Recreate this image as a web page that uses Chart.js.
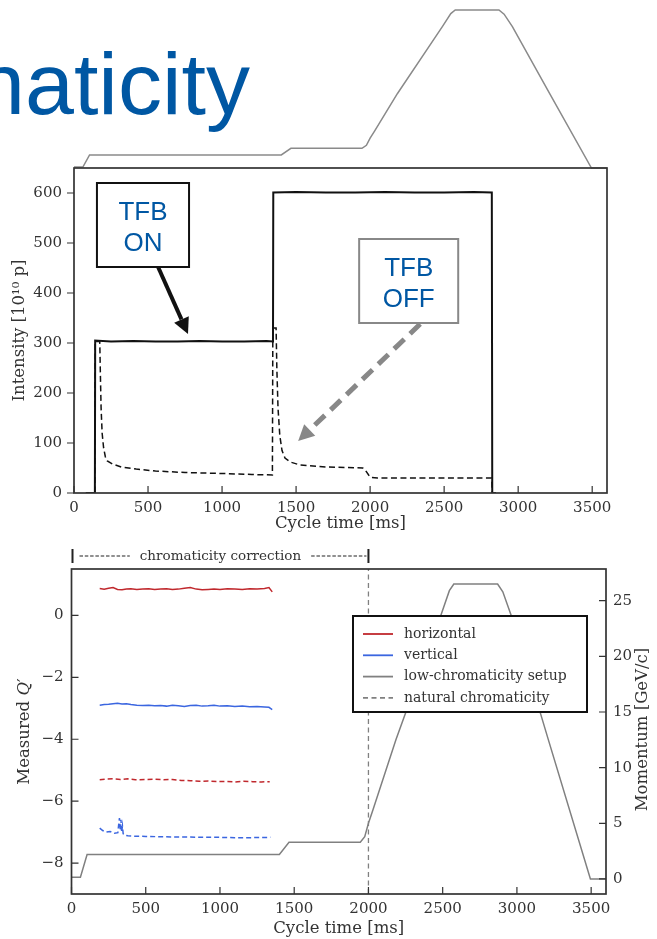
<!DOCTYPE html>
<html>
<head>
<meta charset="utf-8">
<script src="https://cdn.jsdelivr.net/npm/chart.js@4.4.1/dist/chart.umd.min.js"></script>
<style>
  html, body { margin: 0; padding: 0; background: #fff; }
  body { width: 657px; height: 939px; position: relative; overflow: hidden; }
  #slide-title { position: absolute; left: -24px; top: 40px; font: 88px/88px 'Liberation Sans', Arial, sans-serif; color: #0057a3; white-space: nowrap; }
  .panel { position: absolute; left: 0; width: 657px; }
  #top-panel { top: 0; height: 545px; }
  #bottom-panel { top: 540px; height: 399px; }
</style>
</head>
<body>
<div id="slide-title">naticity</div>
<div class="panel" id="top-panel"><canvas id="intensityChart"></canvas></div>
<div class="panel" id="bottom-panel"><canvas id="chromaChart"></canvas></div>
<script>
// shared axis ticks
const timeTicks = [0, 500, 1000, 1500, 2000, 2500, 3000, 3500];
const intensityTicks = [0, 100, 200, 300, 400, 500, 600];
const qTicks = [0, -2, -4, -6, -8];
const momTicks = [0, 5, 10, 15, 20, 25];

// top panel: intensity [1e10 p], TFB on (solid) / off (dashed)
const onTime = [80, 141, 143, 250, 400, 550, 700, 850, 1000, 1150, 1300, 1344, 1346, 1500, 1700, 1900, 2100, 2300, 2500, 2700, 2822, 2825, 2850];
const onIntensity = [0, 0, 305, 303, 304, 303, 303, 304, 303, 303, 304, 303, 601, 602, 601, 601, 602, 601, 601, 602, 601, 0, 0];
const offTime = [80, 141, 143, 174, 178, 183, 190, 200, 212, 225, 260, 320, 420, 550, 750, 1000, 1200, 1340, 1343, 1365, 1370, 1378, 1390, 1405, 1425, 1460, 1527, 1700, 1950, 1965, 1990, 2005, 2050, 2400, 2822, 2825, 2850];
const offIntensity = [0, 0, 303, 303, 240, 170, 120, 90, 72, 64, 58, 52, 48, 44, 41, 39, 37, 36, 330, 330, 250, 170, 115, 85, 70, 62, 56, 52, 50, 47, 36, 31, 30, 30, 30, 0, 0];

// momentum cycle [GeV/c] (also the slide's decorative ramp above the top panel)
const momTime = [0, 60, 105, 1400, 1465, 1945, 1975, 2000, 2030, 2185, 2488, 2545, 2575, 2870, 2905, 2961, 3212, 3495, 3600];
const momentum = [0.15, 0.15, 2.2, 2.2, 3.3, 3.3, 3.8, 5.0, 6.2, 12.5, 23.7, 25.9, 26.5, 26.5, 25.8, 23.7, 12.5, 0, 0];

// bottom panel: measured Q'
const lowTime = [190, 220, 250, 280, 310, 340, 370, 400, 440, 480, 520, 560, 600, 640, 680, 720, 760, 800, 840, 880, 920, 960, 1000, 1050, 1100, 1150, 1200, 1250, 1300, 1330, 1352];
const hLow = [0.87, 0.85, 0.88, 0.90, 0.84, 0.83, 0.85, 0.86, 0.84, 0.85, 0.86, 0.84, 0.85, 0.86, 0.84, 0.85, 0.88, 0.90, 0.85, 0.83, 0.84, 0.85, 0.84, 0.86, 0.85, 0.84, 0.86, 0.85, 0.87, 0.90, 0.76];
const vLow = [-2.90, -2.88, -2.87, -2.85, -2.84, -2.86, -2.85, -2.88, -2.90, -2.91, -2.90, -2.92, -2.91, -2.93, -2.90, -2.92, -2.94, -2.91, -2.90, -2.93, -2.92, -2.90, -2.93, -2.92, -2.94, -2.93, -2.95, -2.94, -2.96, -2.97, -3.04];
const hNatTime = [190, 230, 280, 330, 380, 430, 500, 560, 620, 680, 740, 800, 860, 920, 980, 1040, 1100, 1160, 1220, 1280, 1335];
const hNat = [-5.31, -5.29, -5.28, -5.30, -5.28, -5.31, -5.30, -5.29, -5.31, -5.30, -5.33, -5.34, -5.36, -5.35, -5.37, -5.36, -5.38, -5.36, -5.37, -5.38, -5.37];
const vNatTime = [190, 210, 235, 260, 290, 312, 318, 323, 328, 333, 338, 343, 348, 355, 380, 420, 500, 600, 700, 800, 900, 1000, 1100, 1200, 1340];
const vNat = [-6.87, -6.95, -7.0, -6.98, -7.04, -7.02, -6.75, -6.55, -6.95, -6.6, -7.0, -6.8, -7.05, -7.1, -7.12, -7.13, -7.14, -7.15, -7.16, -7.16, -7.17, -7.17, -7.18, -7.18, -7.17];
const natLineTime = [2000, 2000];
const natLineQ = [-9, 1.5];

Chart.defaults.font.family = '"DejaVu Serif", serif';
Chart.defaults.color = '#333';

const pts = (xs, ys) => xs.map((x, i) => ({ x, y: ys[i] }));
const fixTicks = list => s => { s.ticks = list.map(value => ({ value })); };
const plain = v => String(v).replace('-', '\u2212');

// frame around plot + tick marks (matplotlib style)
function framePlugin(spec) {
  return {
    id: 'frame',
    afterDatasetsDraw(chart) {
      const { ctx, chartArea: a, scales } = chart;
      ctx.save();
      ctx.strokeStyle = '#333';
      ctx.lineWidth = 1.2;
      ctx.beginPath();
      spec.forEach(({ id, dir }) => {
        const s = scales[id];
        s.ticks.forEach(t => {
          const p = s.getPixelForValue(t.value);
          if (s.isHorizontal()) {
            ctx.moveTo(p, a.bottom); ctx.lineTo(p, a.bottom - 7);
          } else {
            const x0 = s.position === 'left' ? a.left : a.right;
            ctx.moveTo(x0, p); ctx.lineTo(x0 + dir * 7, p);
          }
        });
      });
      ctx.stroke();
      ctx.lineWidth = 1.7;
      ctx.strokeRect(a.left, a.top, a.right - a.left, a.bottom - a.top);
      ctx.restore();
    }
  };
}

function arrow(ctx, x0, y0, x1, y1, color, w, dash) {
  const ang = Math.atan2(y1 - y0, x1 - x0), hl = 16, hw = 8;
  const bx = x1 - hl * Math.cos(ang), by = y1 - hl * Math.sin(ang);
  ctx.save();
  ctx.strokeStyle = color; ctx.fillStyle = color; ctx.lineWidth = w;
  ctx.setLineDash(dash);
  ctx.beginPath(); ctx.moveTo(x0, y0); ctx.lineTo(bx, by); ctx.stroke();
  ctx.setLineDash([]);
  ctx.beginPath();
  ctx.moveTo(x1, y1);
  ctx.lineTo(bx + hw * Math.sin(ang), by - hw * Math.cos(ang));
  ctx.lineTo(bx - hw * Math.sin(ang), by + hw * Math.cos(ang));
  ctx.closePath(); ctx.fill();
  ctx.restore();
}

function noteBox(ctx, l, t, r, b, color, lines) {
  ctx.save();
  ctx.fillStyle = '#fff';
  ctx.fillRect(l, t, r - l, b - t);
  ctx.strokeStyle = color; ctx.lineWidth = 2;
  ctx.strokeRect(l, t, r - l, b - t);
  ctx.fillStyle = '#0057a3';
  ctx.font = '26px "Liberation Sans", Arial, sans-serif';
  ctx.textAlign = 'center';
  ctx.textBaseline = 'alphabetic';
  ctx.fillText(lines[0], (l + r) / 2, t + 37);
  ctx.fillText(lines[1], (l + r) / 2, t + 68);
  ctx.restore();
}

const tfbNotes = {
  id: 'tfbNotes',
  afterDraw(chart) {
    const { ctx, scales: { x, y } } = chart;
    const X = v => x.getPixelForValue(v), Y = v => y.getPixelForValue(v);
    arrow(ctx, X(568), Y(452), X(770), Y(318), '#111', 4, []);
    arrow(ctx, X(2338), Y(338), X(1514), Y(104), '#888', 5, [14, 8]);
    noteBox(ctx, X(155), Y(620), X(777), Y(452), '#111', ['TFB', 'ON']);
    noteBox(ctx, X(1926), Y(508), X(2595), Y(340), '#888', ['TFB', 'OFF']);
  }
};

function vTitle(ctx, parts, x, y) {
  ctx.save();
  ctx.translate(x, y);
  ctx.rotate(-Math.PI / 2);
  ctx.fillStyle = '#333';
  ctx.textBaseline = 'middle';
  ctx.textAlign = 'left';
  const fonts = parts.map(p => (p.italic ? 'italic ' : '') + '16.5px "DejaVu Serif", serif');
  let total = 0;
  parts.forEach((p, i) => { ctx.font = fonts[i]; total += ctx.measureText(p.text).width; });
  let cx = -total / 2;
  parts.forEach((p, i) => { ctx.font = fonts[i]; ctx.fillText(p.text, cx, 0); cx += ctx.measureText(p.text).width; });
  ctx.restore();
}

const chromaDecor = {
  id: 'chromaDecor',
  afterDraw(chart) {
    const { ctx, chartArea: a, scales: { x } } = chart;
    const yc = (a.top + a.bottom) / 2;
    vTitle(ctx, [{ text: 'Measured ' }, { text: 'Q', italic: true }, { text: '\u2032' }], 25, yc);
    vTitle(ctx, [{ text: 'Momentum [GeV/c]' }], 643, yc - 2);

    // chromaticity correction bracket (0 .. 2000 ms)
    const x0 = x.getPixelForValue(0) + 1, x1 = x.getPixelForValue(2000), yb = a.top - 13;
    const label = 'chromaticity correction';
    ctx.save();
    ctx.font = '13.5px "DejaVu Serif", serif';
    const tw = ctx.measureText(label).width, xm = (x0 + x1) / 2;
    ctx.strokeStyle = '#222';
    ctx.lineWidth = 2;
    ctx.beginPath();
    ctx.moveTo(x0, yb - 7); ctx.lineTo(x0, yb + 7);
    ctx.moveTo(x1, yb - 7); ctx.lineTo(x1, yb + 7);
    ctx.stroke();
    ctx.lineWidth = 1.2;
    ctx.setLineDash([3.5, 1.8]);
    ctx.beginPath();
    ctx.moveTo(x0 + 7, yb); ctx.lineTo(xm - tw / 2 - 10, yb);
    ctx.moveTo(xm + tw / 2 + 10, yb); ctx.lineTo(x1 - 2, yb);
    ctx.stroke();
    ctx.fillStyle = '#333';
    ctx.textAlign = 'center';
    ctx.textBaseline = 'middle';
    ctx.fillText(label, xm, yb);
    ctx.restore();
  }
};

const legendBox = {
  id: 'legendBox',
  afterDatasetsDraw(chart) {
    const { ctx, chartArea: a } = chart;
    const left = a.left + 281.5, top = a.top + 47, w = 234, h = 96;
    ctx.save();
    ctx.fillStyle = '#fff';
    ctx.fillRect(left, top, w, h);
    ctx.strokeStyle = '#111'; ctx.lineWidth = 2;
    ctx.strokeRect(left, top, w, h);
    ctx.font = '14px "DejaVu Serif", serif';
    ctx.textBaseline = 'middle';
    chart.data.datasets.filter(d => !d.noLegend).forEach((d, i) => {
      const yy = top + 18 + i * 21.3;
      ctx.strokeStyle = d.borderColor; ctx.lineWidth = 1.8;
      ctx.setLineDash(d.borderDash || []);
      ctx.beginPath(); ctx.moveTo(left + 10, yy); ctx.lineTo(left + 40, yy); ctx.stroke();
      ctx.fillStyle = '#333';
      ctx.fillText(d.label, left + 51, yy);
    });
    ctx.restore();
  }
};

const lineDefaults = { pointRadius: 0, tension: 0, fill: false };
const tickFont = { size: 15 };
const titleFont = { size: 16.5 };

new Chart(document.getElementById('intensityChart'), {
  type: 'line',
  data: {
    datasets: [
      { ...lineDefaults, label: 'TFB ON', data: pts(onTime, onIntensity), borderColor: '#111', borderWidth: 2 },
      { ...lineDefaults, label: 'TFB OFF', data: pts(offTime, offIntensity), borderColor: '#111', borderWidth: 1.5, borderDash: [6, 3.5] },
      { ...lineDefaults, label: 'momentum', data: pts(momTime, momentum), yAxisID: 'yDeco', borderColor: '#8a8a8a', borderWidth: 1.5, clip: false }
    ]
  },
  options: {
    responsive: true, maintainAspectRatio: false, animation: false,
    layout: { padding: { top: 168, right: 50, left: 0, bottom: 0 } },
    plugins: { legend: { display: false }, tooltip: { enabled: false } },
    scales: {
      x: {
        type: 'linear', min: 0, max: 3600,
        afterBuildTicks: fixTicks(timeTicks),
        afterFit: s => { s.height = 52; },
        grid: { display: false, drawTicks: false }, border: { display: false },
        ticks: { padding: 6, font: tickFont, maxRotation: 0, callback: plain },
        title: { display: true, text: 'Cycle time [ms]', font: titleFont, padding: { top: 0, bottom: 11 } }
      },
      y: {
        min: 0, max: 650,
        afterBuildTicks: fixTicks(intensityTicks),
        afterFit: s => { s.width = 74; },
        grid: { display: false, drawTicks: false }, border: { display: false },
        ticks: { padding: 12, font: tickFont, callback: plain },
        title: { display: true, text: 'Intensity [10\u00b9\u2070 p]', font: titleFont, padding: { top: 10 } }
      },
      yDeco: { display: false, min: -54.5, max: 0 }
    }
  },
  plugins: [framePlugin([{ id: 'x' }, { id: 'y', dir: -1 }]), tfbNotes]
});

new Chart(document.getElementById('chromaChart'), {
  type: 'line',
  data: {
    datasets: [
      { ...lineDefaults, label: 'horizontal', data: pts(lowTime, hLow), borderColor: '#c0282d', borderWidth: 1.5 },
      { ...lineDefaults, label: 'vertical', data: pts(lowTime, vLow), borderColor: '#3b66e0', borderWidth: 1.5 },
      { ...lineDefaults, label: 'low-chromaticity setup', data: pts(momTime, momentum), yAxisID: 'yMom', borderColor: '#808080', borderWidth: 1.5 },
      { ...lineDefaults, label: 'natural chromaticity', data: pts(natLineTime, natLineQ), borderColor: '#808080', borderWidth: 1.3, borderDash: [5, 3.5] },
      { ...lineDefaults, label: 'horizontal natural', noLegend: true, data: pts(hNatTime, hNat), borderColor: '#c0282d', borderWidth: 1.5, borderDash: [5, 3] },
      { ...lineDefaults, label: 'vertical natural', noLegend: true, data: pts(vNatTime, vNat), borderColor: '#3b66e0', borderWidth: 1.5, borderDash: [5, 3] }
    ]
  },
  options: {
    responsive: true, maintainAspectRatio: false, animation: false,
    layout: { padding: { top: 29, right: 0, left: 0, bottom: 0 } },
    plugins: { legend: { display: false }, tooltip: { enabled: false } },
    scales: {
      x: {
        type: 'linear', min: 0, max: 3600,
        afterBuildTicks: fixTicks(timeTicks),
        afterFit: s => { s.height = 45; },
        grid: { display: false, drawTicks: false }, border: { display: false },
        ticks: { padding: 6, font: tickFont, maxRotation: 0, callback: plain },
        title: { display: true, text: 'Cycle time [ms]', font: titleFont, padding: { top: 0, bottom: 0 } }
      },
      y: {
        position: 'left', min: -9, max: 1.5,
        afterBuildTicks: fixTicks(qTicks),
        afterFit: s => { s.width = 71.5; },
        grid: { display: false, drawTicks: false }, border: { display: false },
        ticks: { padding: 8, font: tickFont, callback: plain }
      },
      yMom: {
        position: 'right', min: -1.35, max: 27.85,
        afterBuildTicks: fixTicks(momTicks),
        afterFit: s => { s.width = 51; },
        grid: { display: false, drawTicks: false }, border: { display: false },
        ticks: { padding: 7, font: tickFont, callback: plain }
      }
    }
  },
  plugins: [framePlugin([{ id: 'x' }, { id: 'y', dir: 1 }, { id: 'yMom', dir: -1 }]), legendBox, chromaDecor]
});
</script>
</body>
</html>
